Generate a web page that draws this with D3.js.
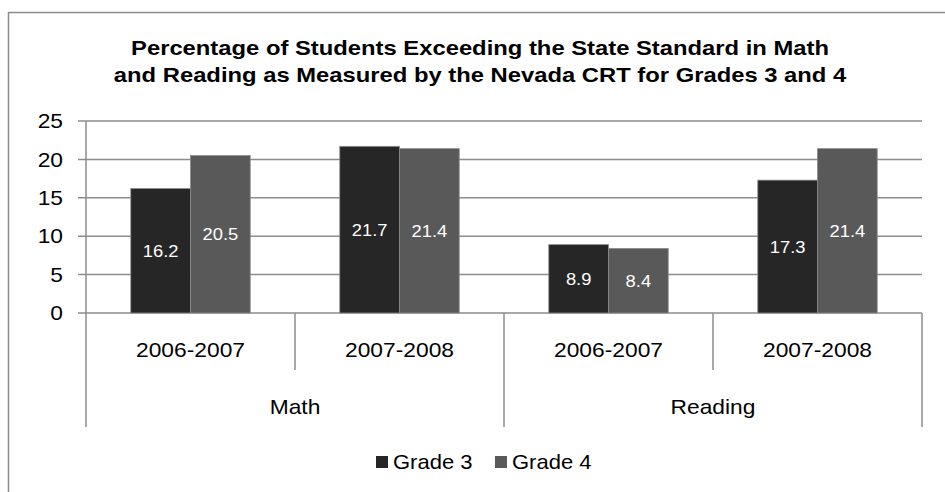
<!DOCTYPE html>
<html>
<head>
<meta charset="utf-8">
<script src="https://cdn.jsdelivr.net/npm/d3@7"></script>
<style>
  body { margin: 0; background: #fff; }
  text { font-family: Arial, "Liberation Sans", sans-serif; }
</style>
</head>
<body>
<div id="chart"></div>
<script>
// Chart data
var subjects = ["Math", "Reading"];
var years = ["2006-2007", "2007-2008"];
var series = ["Grade 3", "Grade 4"];
var grade3 = [16.2, 21.7, 8.9, 17.3];
var grade4 = [20.5, 21.4, 8.4, 21.4];
var yTicks = [0, 5, 10, 15, 20, 25];
var titleLines = ["Percentage of Students Exceeding the State Standard in Math",
                  "and Reading as Measured by the Nevada CRT for Grades 3 and 4"];

var width = 945,
    height = 492;

var margin = { top: 121, bottom: 179, left: 86, right: 23 };

var color = d3.scaleOrdinal().domain(series).range(["#262626", "#595959"]);
var gridColor = "#8c8c8c";

// the original picture is a bit wider than tall, so text gets a horizontal stretch
var textStretch = 1.14;

function stretch(sel, s) {
  sel.each(function() {
    var t = d3.select(this),
        tx = +t.attr("x") || 0,
        ty = +t.attr("y") || 0;
    t.attr("transform", "translate(" + tx + "," + ty + ") scale(" + s + ",1)")
     .attr("x", 0).attr("y", 0);
  });
}

var svg = d3.select("#chart")
            .append("svg")
            .attr("width", width)
            .attr("height", height);

svg.append("rect").attr("width", width).attr("height", height).attr("fill", "#fff");

// chart area border (runs off the right and bottom edges)
svg.append("rect")
   .attr("x", 8.5).attr("y", 12.5)
   .attr("width", width + 20).attr("height", height + 20)
   .attr("fill", "none").attr("stroke", gridColor).attr("stroke-width", 1.5);

// title
svg.selectAll(".title")
   .data(titleLines)
   .enter()
   .append("text")
   .attr("x", 480)
   .attr("y", function(d, i) { return 55 + i * 27; })
   .attr("text-anchor", "middle")
   .style("font-size", "19.5px").style("font-weight", "bold")
   .text(function(d) { return d; })
   .call(stretch, 1.22);

var plotW = width - margin.left - margin.right,
    plotH = height - margin.top - margin.bottom;

var g = svg.append("g").attr("transform", "translate(" + margin.left + "," + margin.top + ")");

// flatten into rows
var rows = [];
subjects.forEach(function(s, i) {
  years.forEach(function(yr, j) {
    var k = i * years.length + j;
    rows.push({ subject: s, year: yr, key: s + "|" + yr, values: [grade3[k], grade4[k]] });
  });
});

var x0 = d3.scaleBand().domain(subjects).range([0, plotW]);
var x1 = d3.scaleBand().domain(years).range([0, x0.bandwidth()]);
var gap = x1.bandwidth() * 0.75 / 1.75 / 2;
var x2 = d3.scaleBand().domain(series).range([gap, x1.bandwidth() - gap]);
var y = d3.scaleLinear().domain([0, 25]).range([plotH, 0]);

// gridlines with short ticks
g.selectAll(".grid")
 .data(yTicks)
 .enter()
 .append("line")
 .attr("x1", -8).attr("x2", plotW)
 .attr("y1", function(d) { return y(d); })
 .attr("y2", function(d) { return y(d); })
 .attr("stroke", gridColor).attr("stroke-width", 1.5);

g.append("line")
 .attr("x1", 0).attr("x2", 0).attr("y1", 0).attr("y2", plotH)
 .attr("stroke", gridColor).attr("stroke-width", 1.5);

g.selectAll(".ylab")
 .data(yTicks)
 .enter()
 .append("text")
 .attr("x", -23)
 .attr("y", function(d) { return y(d); })
 .attr("dy", "0.36em")
 .attr("text-anchor", "end")
 .style("font-size", "20px")
 .text(function(d) { return d; })
 .call(stretch, textStretch);

// bars
var groups = g.selectAll(".grp")
  .data(rows)
  .enter()
  .append("g")
  .attr("transform", function(d) { return "translate(" + (x0(d.subject) + x1(d.year)) + ",0)"; });

var bars = groups.selectAll(".bar")
  .data(function(d) { return d.values.map(function(v, i) { return { s: series[i], v: v }; }); })
  .enter();

bars.append("rect")
  .attr("x", function(d) { return x2(d.s); })
  .attr("y", function(d) { return y(d.v); })
  .attr("width", x2.bandwidth())
  .attr("height", function(d) { return plotH - y(d.v); })
  .attr("fill", function(d) { return color(d.s); })
  .attr("stroke", "#8a8a8a").attr("stroke-width", 0.8);

bars.append("text")
  .attr("x", function(d) { return x2(d.s) + x2.bandwidth() / 2; })
  .attr("y", function(d) { return (y(d.v) + plotH) / 2; })
  .attr("dy", "0.36em")
  .attr("text-anchor", "middle")
  .attr("fill", "#fff")
  .style("font-size", "17px")
  .text(function(d) { return d.v; })
  .call(stretch, 1.08);

// category axis: year ticks and subject dividers
g.selectAll(".ytick")
 .data(rows)
 .enter()
 .append("line")
 .filter(function(d) { return d.year != years[0]; })
 .attr("x1", function(d) { return x0(d.subject) + x1(d.year); })
 .attr("x2", function(d) { return x0(d.subject) + x1(d.year); })
 .attr("y1", plotH).attr("y2", plotH + 57)
 .attr("stroke", gridColor).attr("stroke-width", 1.5);

g.selectAll(".stick")
 .data(subjects.concat(["end"]))
 .enter()
 .append("line")
 .attr("x1", function(d, i) { return i * x0.bandwidth(); })
 .attr("x2", function(d, i) { return i * x0.bandwidth(); })
 .attr("y1", plotH).attr("y2", plotH + 114)
 .attr("stroke", gridColor).attr("stroke-width", 1.5);

g.selectAll(".yearlab")
 .data(rows)
 .enter()
 .append("text")
 .attr("x", function(d) { return x0(d.subject) + x1(d.year) + x1.bandwidth() / 2; })
 .attr("y", plotH + 37)
 .attr("dy", "0.36em")
 .attr("text-anchor", "middle")
 .style("font-size", "20px")
 .text(function(d) { return d.year; })
 .call(stretch, textStretch);

g.selectAll(".subjlab")
 .data(subjects)
 .enter()
 .append("text")
 .attr("x", function(d) { return x0(d) + x0.bandwidth() / 2; })
 .attr("y", plotH + 94)
 .attr("dy", "0.36em")
 .attr("text-anchor", "middle")
 .style("font-size", "20px")
 .text(function(d) { return d; })
 .call(stretch, textStretch);

// legend
var legendX = [376, 495];
var legend = svg.selectAll(".legend")
  .data(series)
  .enter()
  .append("g")
  .attr("transform", function(d, i) { return "translate(" + legendX[i] + ",456)"; });

legend.append("rect")
  .attr("width", 12).attr("height", 12)
  .attr("fill", function(d) { return color(d); });

legend.append("text")
  .attr("x", 17).attr("y", 6)
  .attr("dy", "0.36em")
  .style("font-size", "20px")
  .text(function(d) { return d; })
  .call(stretch, 1.1);
</script>
</body>
</html>
